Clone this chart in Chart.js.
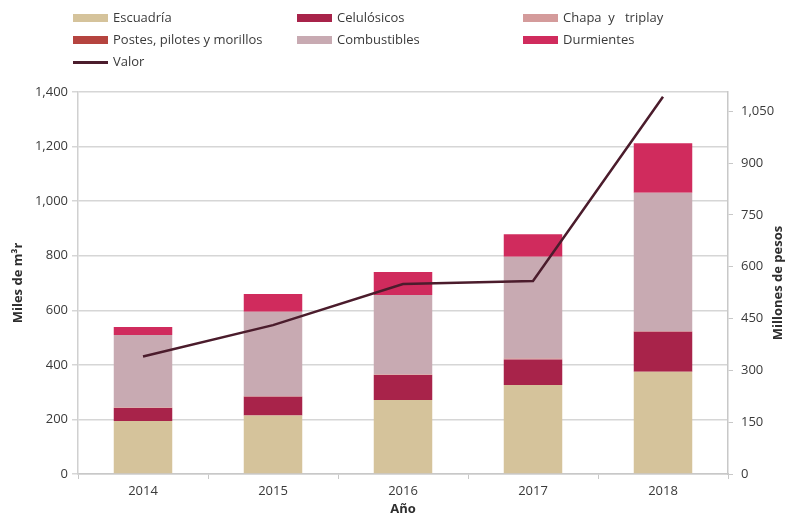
<!DOCTYPE html>
<html lang="es">
<head>
<meta charset="UTF-8">
<title>Producción forestal maderable</title>
<script src="https://cdn.jsdelivr.net/npm/chart.js"></script>
<style>
  html, body { margin: 0; padding: 0; background: #fff; }
  .wrap { position: relative; width: 790px; height: 518px; font-family: "Open Sans", sans-serif; color: #3a3a3a; }
  #legend { position: absolute; left: 0; top: 0; width: 790px; height: 75px; }
  .item { position: absolute; font-size: 13px; line-height: 14px; white-space: pre; }
  .item span.sw { position: absolute; left: 0; width: 35px; }
  .item span.tx { position: absolute; left: 40px; top: -8px; }
  canvas { position: absolute; left: 0; top: 0; }
</style>
</head>
<body>
<div class="wrap">
  <canvas id="chart" width="790" height="518"></canvas>
  <div id="legend"></div>
</div>
<script>
// data
const years = ['2014', '2015', '2016', '2017', '2018'];
const escuadria = [194, 214, 271, 326, 375];
const celulosicos = [48, 69, 92, 94, 146];
const chapa = [2, 2, 2, 2, 2];
const postes = [1, 1, 1, 1, 1];
const combustibles = [264, 309, 290, 373, 507];
const durmientes = [30, 65, 84, 83, 181];
const valor = [340, 431, 550, 559, 1092];

const leftTicks = [0, 200, 400, 600, 800, 1000, 1200, 1400];
const rightTicks = [0, 150, 300, 450, 600, 750, 900, 1050];

const barSeries = [
  { label: 'Escuadría', data: escuadria, color: '#d5c39b' },
  { label: 'Celulósicos', data: celulosicos, color: '#a8234a' },
  { label: 'Chapa  y   triplay', data: chapa, color: '#d49b9b' },
  { label: 'Postes, pilotes y morillos', data: postes, color: '#b5443f' },
  { label: 'Combustibles', data: combustibles, color: '#c8aab2' },
  { label: 'Durmientes', data: durmientes, color: '#d02b5d' }
];
const lineColor = '#4b1c2c';

// legend in three columns like the original
const colX = [73, 297, 523];
const rowY = [18, 40, 62];
const legend = document.getElementById('legend');
barSeries.forEach((s, i) => {
  const div = document.createElement('div');
  div.className = 'item';
  div.style.left = colX[i % 3] + 'px';
  div.style.top = rowY[Math.floor(i / 3)] + 'px';
  div.innerHTML = '<span class="sw" style="top:-4px;height:8px;background:' + s.color + '"></span><span class="tx">' + s.label + '</span>';
  legend.appendChild(div);
});
const lv = document.createElement('div');
lv.className = 'item';
lv.style.left = colX[0] + 'px';
lv.style.top = rowY[2] + 'px';
lv.innerHTML = '<span class="sw" style="top:-1px;height:2.5px;background:' + lineColor + '"></span><span class="tx">Valor</span>';
legend.appendChild(lv);

const fmt = v => v.toLocaleString('en-US');

// axis titles drawn by hand (both read bottom to top)
const titles = {
  id: 'titles',
  afterDraw(chart) {
    const c = chart.ctx, a = chart.chartArea;
    const midY = (a.top + a.bottom) / 2;
    c.save();
    c.fillStyle = '#2e2e2e';
    c.font = 'bold 13px "Open Sans", sans-serif';
    c.textAlign = 'center';
    c.textBaseline = 'middle';
    c.fillText('Año', (a.left + a.right) / 2, 509);
    c.translate(18, midY);
    c.rotate(-Math.PI / 2);
    c.fillText('Miles de m³r', 0, 0);
    c.restore();
    c.save();
    c.fillStyle = '#2e2e2e';
    c.font = 'bold 13px "Open Sans", sans-serif';
    c.textAlign = 'center';
    c.textBaseline = 'middle';
    c.translate(778, midY);
    c.rotate(-Math.PI / 2);
    c.fillText('Millones de pesos', 0, 0);
    c.restore();
  }
};

const datasets = barSeries.map(s => ({
  type: 'bar',
  label: s.label,
  data: s.data,
  backgroundColor: s.color,
  borderWidth: 0,
  yAxisID: 'y',
  stack: 'vol',
  order: 1,
  barPercentage: 0.45,
  categoryPercentage: 1
}));
datasets.push({
  type: 'line',
  label: 'Valor',
  data: valor,
  borderColor: lineColor,
  borderWidth: 2.5,
  pointRadius: 0,
  tension: 0,
  fill: false,
  yAxisID: 'y1',
  order: 0
});

const tickFont = { family: 'Open Sans', size: 13 };

new Chart(document.getElementById('chart'), {
  data: { labels: years, datasets: datasets },
  options: {
    responsive: false,
    animation: false,
    layout: { autoPadding: false, padding: { top: 92, left: 0, right: 0, bottom: 0 } },
    plugins: { legend: { display: false }, tooltip: { enabled: false } },
    scales: {
      x: {
        stacked: true,
        afterFit: s => { s.height = 44; },
        grid: { offset: true, drawOnChartArea: false, tickLength: 5, color: '#c8c8c8' },
        border: { color: '#c8c8c8', width: 1.5 },
        ticks: { color: '#3a3a3a', font: tickFont, padding: 4 }
      },
      y: {
        position: 'left',
        stacked: true,
        min: 0,
        max: 1400,
        afterFit: s => { s.width = 78; },
        afterBuildTicks: s => { s.ticks = leftTicks.map(v => ({ value: v })); },
        grid: { color: '#d6d6d6', lineWidth: 1.5, tickLength: 6 },
        border: { color: '#d0d0d0', width: 1.5 },
        ticks: { color: '#3a3a3a', font: tickFont, padding: 4, callback: v => fmt(v) }
      },
      y1: {
        position: 'right',
        min: 0,
        max: 1106,
        afterFit: s => { s.width = 62; },
        afterBuildTicks: s => { s.ticks = rightTicks.map(v => ({ value: v })); },
        grid: { drawOnChartArea: false, color: '#c8c8c8', tickLength: 5 },
        border: { color: '#c8c8c8', width: 1.5 },
        ticks: { color: '#3a3a3a', font: tickFont, padding: 8, callback: v => fmt(v) }
      }
    }
  },
  plugins: [titles]
});
</script>
</body>
</html>
